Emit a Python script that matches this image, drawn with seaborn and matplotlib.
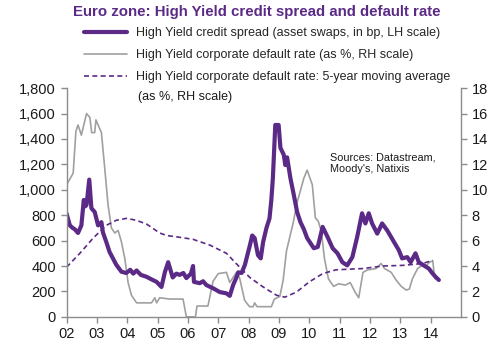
# Euro zone: High Yield credit spread vs default rate (LH in bp, RH in %)

import matplotlib
matplotlib.use("Agg")
import matplotlib.pyplot as plt
import seaborn as sns
from matplotlib.ticker import FuncFormatter

# --- data (decimal years) ---
spread_years = [2002.00, 2002.11, 2002.20, 2002.27, 2002.38, 2002.49, 2002.57, 2002.62, 2002.66,
                2002.75, 2002.82, 2002.93, 2003.04, 2003.15, 2003.20, 2003.31, 2003.42, 2003.53,
                2003.64, 2003.81, 2003.97, 2004.10, 2004.20, 2004.31, 2004.45, 2004.64, 2004.80,
                2004.97, 2005.07, 2005.13, 2005.24, 2005.35, 2005.50, 2005.62, 2005.73, 2005.85,
                2005.95, 2006.10, 2006.17, 2006.20, 2006.39, 2006.50, 2006.61, 2006.83, 2007.05,
                2007.27, 2007.38, 2007.49, 2007.60, 2007.66, 2007.77, 2007.88, 2008.04, 2008.12,
                2008.20, 2008.31, 2008.40, 2008.48, 2008.59, 2008.69, 2008.75, 2008.80, 2008.85,
                2008.88, 2008.99, 2009.05, 2009.16, 2009.21, 2009.27, 2009.38, 2009.49, 2009.60,
                2009.71, 2009.82, 2009.93, 2010.04, 2010.15, 2010.28, 2010.44, 2010.60, 2010.77,
                2010.93, 2011.09, 2011.25, 2011.42, 2011.58, 2011.74, 2011.85, 2011.96, 2012.07,
                2012.24, 2012.40, 2012.57, 2012.79, 2012.95, 2013.06, 2013.23, 2013.34, 2013.50,
                2013.61, 2013.77, 2013.94, 2014.05, 2014.16, 2014.27]
spread_bp = [815, 720, 700, 690, 660, 720, 920, 870, 880,
             1080, 855, 825, 720, 745, 665, 590, 510, 460,
             410, 355, 345, 370, 340, 365, 330, 315, 295,
             275, 250, 235, 350, 430, 310, 340, 330, 345,
             305, 340, 400, 275, 265, 280, 250, 225, 195,
             185, 165, 250, 310, 350, 345, 410, 560, 640,
             620, 485, 460, 590, 700, 775, 920, 1090, 1350,
             1510, 1510, 1330, 1275, 1195, 1255, 1090, 960, 825,
             745, 690, 620, 580, 540, 550, 708, 630, 540,
             500, 430, 405, 470, 630, 815, 735, 815, 735,
             655, 735, 680, 590, 525, 460, 470, 430, 500,
             430, 405, 380, 345, 315, 290]

default_years = [2002.00, 2002.10, 2002.22, 2002.31, 2002.38, 2002.49, 2002.66, 2002.77, 2002.83,
                 2002.93, 2002.97, 2003.15, 2003.26, 2003.37, 2003.48, 2003.59, 2003.70, 2003.81,
                 2003.92, 2004.03, 2004.14, 2004.31, 2004.80, 2004.91, 2004.97, 2005.07, 2005.40,
                 2005.84, 2005.95, 2006.25, 2006.30, 2006.66, 2006.83, 2007.00, 2007.27, 2007.38,
                 2007.60, 2007.70, 2007.87, 2008.03, 2008.15, 2008.20, 2008.28, 2008.75, 2008.85,
                 2009.03, 2009.14, 2009.25, 2009.47, 2009.60, 2009.82, 2009.93, 2010.10, 2010.20,
                 2010.30, 2010.40, 2010.50, 2010.63, 2010.80, 2010.97, 2011.19, 2011.35, 2011.52,
                 2011.63, 2011.77, 2011.93, 2012.20, 2012.37, 2012.48, 2012.70, 2012.86, 2013.03,
                 2013.20, 2013.30, 2013.40, 2013.57, 2013.74, 2013.85, 2013.96, 2014.07, 2014.12,
                 2014.15]
default_pct = [10.4, 10.8, 11.3, 14.6, 15.1, 14.3, 16.0, 15.7, 14.5,
               14.5, 15.5, 14.5, 11.7, 8.8, 7.0, 6.6, 6.8, 5.9,
               4.6, 2.7, 1.7, 1.1, 1.1, 1.5, 1.1, 1.5, 1.4,
               1.4, 0.0, 0.0, 0.85, 0.85, 2.8, 3.4, 3.5, 2.7,
               3.5, 3.1, 1.3, 0.8, 0.8, 1.1, 0.8, 0.8, 1.4,
               1.6, 2.9, 5.2, 7.4, 9.0, 10.9, 11.55, 10.4, 7.8,
               7.5, 6.7, 4.6, 3.0, 2.4, 2.6, 2.5, 2.7, 1.9,
               1.5, 3.5, 3.7, 3.8, 4.2, 3.8, 3.5, 2.9, 2.4,
               2.1, 2.2, 3.0, 3.8, 4.1, 4.0, 4.3, 4.4, 3.3,
               3.0]

ma_years = [2002.00, 2002.44, 2002.88, 2003.31, 2003.64, 2003.98, 2004.30, 2004.64, 2005.07,
            2005.30, 2005.62, 2006.17, 2006.72, 2007.27, 2007.71, 2008.04, 2008.48, 2008.92,
            2009.20, 2009.58, 2010.00, 2010.44, 2010.88, 2011.30, 2011.76, 2012.42, 2013.08,
            2013.74, 2014.07]
ma_pct = [3.9, 5.0, 6.2, 7.2, 7.6, 7.75, 7.6, 7.3, 6.6,
          6.4, 6.3, 6.1, 5.65, 5.0, 3.9, 3.1, 2.35, 1.7,
          1.55, 1.95, 2.75, 3.4, 3.7, 3.75, 3.8, 4.0, 4.05,
          4.2, 4.45]

year_ticks = list(range(2002, 2015))
year_labels = [f"{y % 100:02d}" for y in year_ticks]

label_spread = "High Yield credit spread (asset swaps, in bp, LH scale)"
label_default = "High Yield corporate default rate (as %, RH scale)"
label_ma = "High Yield corporate default rate: 5-year moving average"

PURPLE = "#5b2a86"
GREY = "#a0a0a0"
AXIS = "#8c8c8c"

sns.set_style("ticks")
plt.rcParams["font.family"] = ["Liberation Sans", "DejaVu Sans"]

fig, ax = plt.subplots(figsize=(5, 3.54), dpi=100)
fig.subplots_adjust(left=0.133, right=0.922, bottom=0.105, top=0.751)
ax2 = ax.twinx()

# RH scale series
sns.lineplot(x=default_years, y=default_pct, ax=ax2, color=GREY, lw=1.2)
sns.lineplot(x=ma_years, y=ma_pct, ax=ax2, color=PURPLE, lw=1.2, dashes=False,
             linestyle=(0, (3, 2)))
# LH scale series, drawn above the others
sns.lineplot(x=spread_years, y=spread_bp, ax=ax, color=PURPLE, lw=3.0)
ax.set_zorder(ax2.get_zorder() + 1)
ax.patch.set_visible(False)

ax.set_xlim(2002, 2015)
ax.set_ylim(0, 1800)
ax2.set_ylim(0, 18)
ax.set_xticks(year_ticks)
ax.set_xticklabels(year_labels)
ax.set_yticks(range(0, 1801, 200))
ax.yaxis.set_major_formatter(FuncFormatter(lambda v, p: f"{int(v):,}"))
ax2.set_yticks(range(0, 19, 2))
ax.set_xlabel("")
ax.set_ylabel("")
ax2.set_ylabel("")

for a in (ax, ax2):
    a.spines["top"].set_visible(False)
    for s in a.spines.values():
        s.set_color(AXIS)
        s.set_linewidth(1.0)
    a.tick_params(axis="both", colors=AXIS, labelcolor="#1a1a1a", labelsize=10.5,
                  length=4, width=1.0, direction="out")
ax.spines["right"].set_visible(False)
ax2.spines["left"].set_visible(False)
ax2.spines["bottom"].set_visible(False)

# legend built from the drawn lines
handles = [ax.lines[0], ax2.lines[0], ax2.lines[1]]
fig.legend(handles, [label_spread, label_default, label_ma], loc="upper left",
           bbox_to_anchor=(0.158, 0.937), frameon=False, fontsize=9,
           handlelength=3.4, labelspacing=0.8, handletextpad=0.8, borderaxespad=0)
fig.text(0.276, 0.726, "(as %, RH scale)", fontsize=9, color="#1a1a1a", va="center")

fig.suptitle("Euro zone: High Yield credit spread and default rate", x=0.514, y=0.985,
             fontsize=10.8, fontweight="bold", color=PURPLE)
fig.text(0.66, 0.57, "Sources: Datastream,\nMoody's, Natixis", fontsize=7.8,
         color="#1a1a1a", va="top", linespacing=1.2)

fig.savefig("out.png", dpi=100)
